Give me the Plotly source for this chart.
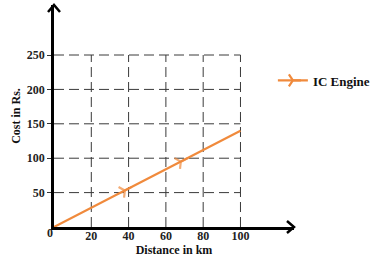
import plotly.graph_objects as go

# Data
distance_km = [0, 38, 68, 100]
cost_rs = [0, 53, 95, 140]
series_name = "IC Engine"
x_ticks = [20, 40, 60, 80, 100]
y_ticks = [50, 100, 150, 200, 250]

ORANGE = "#f08a3c"
SERIF = "Liberation Serif, Times New Roman, serif"

fig = go.Figure()
fig.add_trace(go.Scatter(
    x=distance_km, y=cost_rs, mode="lines+markers", name=series_name,
    showlegend=False, legendgroup="ic",
    line=dict(color=ORANGE, width=2.2),
    marker=dict(symbol="y-up", size=[0, 10, 10, 0], angleref="previous", angle=0,
                color=ORANGE, line=dict(color=ORANGE, width=2.2)),
))
# legend entry (line with arrow pointing right)
fig.add_trace(go.Scatter(
    x=[None], y=[None], mode="lines+markers", name=f"<b>{series_name}</b>",
    legendgroup="ic",
    line=dict(color=ORANGE, width=2.2),
    marker=dict(symbol="y-right", size=10,
                color=ORANGE, line=dict(color=ORANGE, width=2.2)),
))

shapes = []
grid_style = dict(color="#3a3a3a", width=1, dash="10px,5px")
for xv in x_ticks:
    shapes.append(dict(type="line", xref="x", yref="y", x0=xv, x1=xv,
                       y0=0, y1=max(y_ticks), line=grid_style, layer="below"))
for yv in y_ticks:
    shapes.append(dict(type="line", xref="x", yref="y", x0=0, x1=max(x_ticks),
                       y0=yv, y1=yv, line=grid_style, layer="below"))

# axis arrowheads (open chevrons)
shapes.append(dict(type="path", xref="paper", yref="paper", xsizemode="pixel",
                   ysizemode="pixel", xanchor=1, yanchor=0,
                   path="M -7 -6 L 0 0 L -7 6", line=dict(color="black", width=2.5)))
shapes.append(dict(type="path", xref="paper", yref="paper", xsizemode="pixel",
                   ysizemode="pixel", xanchor=0, yanchor=1,
                   path="M -6 -7 L 0 0 L 6 -7", line=dict(color="black", width=2.5)))

fig.update_layout(
    width=380, height=264,
    margin=dict(l=54, r=78, t=5, b=37),
    paper_bgcolor="white", plot_bgcolor="white",
    showlegend=True,
    legend=dict(x=0.912, y=0.66, xanchor="left", yanchor="middle",
                font=dict(family=SERIF, size=13, color="#111"),
                bgcolor="rgba(0,0,0,0)", itemwidth=30),
    shapes=shapes,
    annotations=[dict(text="<b>0</b>", x=0, y=0, xref="x", yref="y",
                      xshift=-4, yshift=-6, showarrow=False,
                      font=dict(family=SERIF, size=12, color="#222"))],
    font=dict(family=SERIF, size=12, color="#222"),
)
fig.update_xaxes(range=[0, 128.7], showline=True, linewidth=2.5, linecolor="black",
                 showgrid=False, zeroline=False, tickvals=x_ticks,
                 ticktext=[f"<b>{v}</b>" for v in x_ticks], ticks="",
                 ticklabelstandoff=-4,
                 title=dict(text="<b>Distance in km</b>", standoff=2,
                            font=dict(family=SERIF, size=12, color="#111")))
fig.update_yaxes(range=[0, 322.7], showline=True, linewidth=2.5, linecolor="black",
                 showgrid=False, zeroline=False, tickvals=y_ticks,
                 ticktext=[f"<b>{v}</b>" for v in y_ticks], ticks="outside",
                 ticklen=4, tickcolor="#333",
                 title=dict(text="<b>Cost in Rs.</b>", standoff=4,
                            font=dict(family=SERIF, size=12, color="#111")))

fig.write_html("out.html", config={"displayModeBar": False},
               post_script="document.body.style.margin='0px';")
